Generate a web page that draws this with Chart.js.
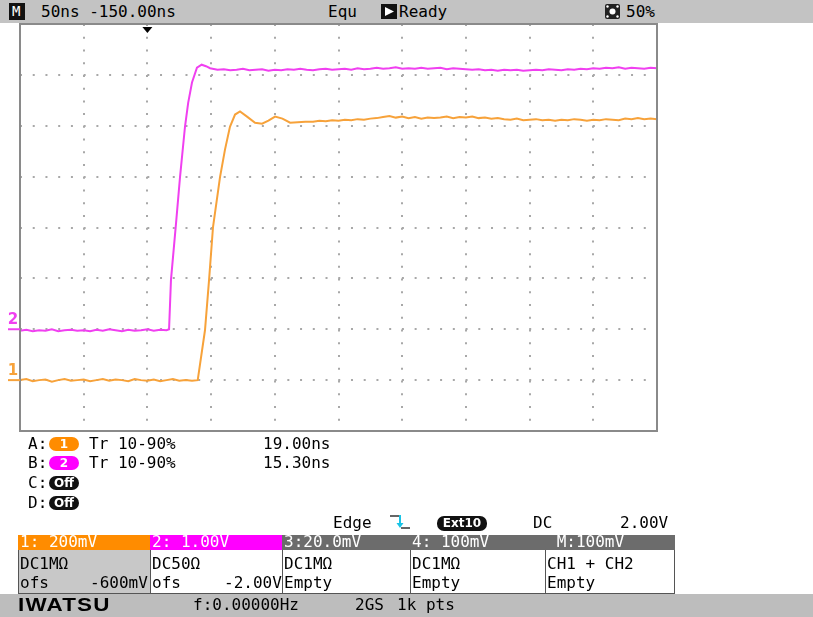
<!DOCTYPE html>
<html>
<head>
<meta charset="utf-8">
<script src="https://cdn.jsdelivr.net/npm/chart.js@4.4.0/dist/chart.umd.min.js"></script>
<style>
  body { margin: 0; background: #fff; }
  #scope { position: relative; width: 813px; height: 617px; overflow: hidden; font-family: "DejaVu Sans Mono", monospace; font-size: 16px; color: #000; }
  #scope canvas { position: absolute; left: 0; top: 0; }
  .t { position: absolute; white-space: pre; height: 18px; line-height: 18px; }
  .bar { position: absolute; left: 0; width: 813px; }
  .pill { position: absolute; height: 14px; border-radius: 7px; color: #fff; font-family: "DejaVu Sans", sans-serif; font-weight: bold; font-size: 12px; line-height: 14px; text-align: center; }
  .cell { position: absolute; box-sizing: border-box; }
  .w { color: #fff; }
</style>
</head>
<body>
<div id="scope">
  <canvas id="grafica" width="813" height="617"></canvas>

  <!-- barra superior -->
  <div class="bar" style="top:0;height:23px;background:#c3c3c3;"></div>
  <div class="cell" style="left:9px;top:3px;width:16px;height:17px;background:#111;"></div>
  <div class="t w" style="left:12px;top:2px;font-size:14px;">M</div>
  <div class="t" style="left:41px;top:3px;">50ns -150.00ns</div>
  <div class="t" style="left:328px;top:3px;">Equ</div>
  <div class="cell" style="left:381px;top:4px;width:16px;height:15px;background:#111;"></div>
  <svg style="position:absolute;left:381px;top:4px" width="16" height="15"><polygon points="4,3 13,7.5 4,12" fill="#fff"/></svg>
  <div class="t" style="left:399px;top:3px;">Ready</div>
  <svg style="position:absolute;left:605px;top:4px" width="15" height="15">
    <rect x="0" y="0" width="15" height="15" rx="2" fill="#222"/>
    <circle cx="7.5" cy="7.5" r="3" fill="#fff"/>
    <circle cx="2.5" cy="2.5" r="1.2" fill="#fff"/><circle cx="12.5" cy="2.5" r="1.2" fill="#fff"/>
    <circle cx="2.5" cy="12.5" r="1.2" fill="#fff"/><circle cx="12.5" cy="12.5" r="1.2" fill="#fff"/>
  </svg>
  <div class="t" style="left:626px;top:3px;">50%</div>

  <!-- medidas -->
  <div class="t" style="left:28px;top:435px;">A:</div>
  <div class="pill" style="left:49px;top:437px;width:30px;background:#ff8c00;">1</div>
  <div class="t" style="left:89px;top:435px;">Tr 10-90%</div>
  <div class="t" style="left:263px;top:435px;">19.00ns</div>

  <div class="t" style="left:28px;top:454px;">B:</div>
  <div class="pill" style="left:49px;top:456px;width:30px;background:#ff00ff;">2</div>
  <div class="t" style="left:89px;top:454px;">Tr 10-90%</div>
  <div class="t" style="left:263px;top:454px;">15.30ns</div>

  <div class="t" style="left:28px;top:474px;">C:</div>
  <div class="pill" style="left:49px;top:476px;width:30px;background:#111;">Off</div>
  <div class="t" style="left:28px;top:494px;">D:</div>
  <div class="pill" style="left:49px;top:496px;width:30px;background:#111;">Off</div>

  <!-- disparo -->
  <div class="t" style="left:333px;top:514px;">Edge</div>
  <svg style="position:absolute;left:388px;top:513px" width="24" height="18">
    <polyline points="2,3 11,3" stroke="#333" stroke-width="1.5" fill="none"/>
    <line x1="12" y1="2" x2="12" y2="12" stroke="#19c4e6" stroke-width="2"/>
    <polygon points="8.5,10 15.5,10 12,15" fill="#19c4e6"/>
    <polyline points="13,15 22,15" stroke="#333" stroke-width="1.5" fill="none"/>
  </svg>
  <div class="pill" style="left:437px;top:516px;width:50px;height:15px;line-height:15px;background:#111;">Ext10</div>
  <div class="t" style="left:533px;top:514px;">DC</div>
  <div class="t" style="left:620px;top:514px;">2.00V</div>

  <!-- tabla de canales -->
  <div class="cell" style="left:18px;top:535px;width:132px;height:15px;background:#ff8c00;"></div>
  <div class="cell" style="left:150px;top:535px;width:132px;height:15px;background:#ff00ff;"></div>
  <div class="cell" style="left:282px;top:535px;width:128px;height:15px;background:#6c6c6c;"></div>
  <div class="cell" style="left:410px;top:535px;width:135px;height:15px;background:#6c6c6c;"></div>
  <div class="cell" style="left:545px;top:535px;width:130px;height:15px;background:#6c6c6c;"></div>
  <div class="t w" style="left:20px;top:533px;">1: 200mV</div>
  <div class="t w" style="left:152px;top:533px;">2: 1.00V</div>
  <div class="t w" style="left:284px;top:533px;">3:20.0mV</div>
  <div class="t w" style="left:412px;top:533px;">4: 100mV</div>
  <div class="t w" style="left:547px;top:533px;"> M:100mV</div>

  <div class="cell" style="left:18px;top:550px;width:133px;height:44px;background:#c8c8c8;border:1px solid #555;border-top:none;"></div>
  <div class="cell" style="left:150px;top:550px;width:133px;height:44px;background:#fff;border:1px solid #555;border-top:none;"></div>
  <div class="cell" style="left:282px;top:550px;width:129px;height:44px;background:#fff;border:1px solid #555;border-top:none;"></div>
  <div class="cell" style="left:410px;top:550px;width:136px;height:44px;background:#fff;border:1px solid #555;border-top:none;"></div>
  <div class="cell" style="left:545px;top:550px;width:130px;height:44px;background:#fff;border:1px solid #555;border-top:none;"></div>
  <div class="t" style="left:20px;top:555px;">DC1MΩ</div>
  <div class="t" style="left:152px;top:555px;">DC50Ω</div>
  <div class="t" style="left:284px;top:555px;">DC1MΩ</div>
  <div class="t" style="left:412px;top:555px;">DC1MΩ</div>
  <div class="t" style="left:547px;top:555px;">CH1 + CH2</div>
  <div class="t" style="left:20px;top:574px;">ofs</div>
  <div class="t" style="left:90px;top:574px;">-600mV</div>
  <div class="t" style="left:152px;top:574px;">ofs</div>
  <div class="t" style="left:224px;top:574px;">-2.00V</div>
  <div class="t" style="left:284px;top:574px;">Empty</div>
  <div class="t" style="left:412px;top:574px;">Empty</div>
  <div class="t" style="left:547px;top:574px;">Empty</div>

  <!-- barra inferior -->
  <div class="bar" style="top:594px;height:23px;background:#bdbdbd;"></div>
  <div class="t" style="left:18px;top:596px;font-family:'Liberation Sans',sans-serif;font-weight:900;font-size:19px;letter-spacing:1px;transform:scaleX(1.18);transform-origin:left;">IWATSU</div>
  <div class="t" style="left:193px;top:596px;">f:0.00000Hz</div>
  <div class="t" style="left:355px;top:596px;">2GS</div>
  <div class="t" style="left:397px;top:596px;">1k pts</div>
</div>

<script>
// tiempo en ns (0 = disparo), amplitud en divisiones
const ch2Time = [
  -100, -95, -90, -85, -80, -75, -70, -65, -60, -55, -50, -45, -40, -35, -30, -25, -20, -15, -10, -5, 0, 5, 10, 15,
  17, 18.5, 22.5, 25.6, 29.5, 32, 35, 38.9, 42.6, 46, 49.2,
  55, 60, 65, 70, 75, 80, 85, 90, 95, 100,
  105, 110, 115, 120, 125, 130, 135, 140, 145, 150,
  155, 160, 165, 170, 175, 180, 185, 190, 195, 200,
  205, 210, 215, 220, 225, 230, 235, 240, 245, 250,
  255, 260, 265, 270, 275, 280, 285, 290, 295, 300,
  305, 310, 315, 320, 325, 330, 335, 340, 345, 350,
  355, 360, 365, 370, 375, 380, 385, 390, 395, 400
];
const ch2Div = [
  -2.03, -2.01, -2.04, -2.02, -2.03, -2.00, -2.04, -2.02, -2.01, -2.03, -2.02, -2.04, -2.01, -2.03, -2.00, -2.02, -2.04, -2.01, -2.03, -2.02, -2.00, -2.03, -2.01, -2.02,
  -2.00, -1.03, 0.09, 0.99, 1.98, 2.45, 2.85, 3.14, 3.20, 3.17, 3.13,
  3.10, 3.11, 3.09, 3.10, 3.12, 3.09, 3.10, 3.11, 3.08, 3.10,
  3.09, 3.11, 3.10, 3.12, 3.10, 3.09, 3.11, 3.12, 3.10, 3.11,
  3.12, 3.10, 3.13, 3.11, 3.12, 3.14, 3.12, 3.13, 3.15, 3.12,
  3.13, 3.12, 3.14, 3.12, 3.13, 3.14, 3.11, 3.13, 3.12, 3.11,
  3.10, 3.11, 3.09, 3.10, 3.08, 3.10, 3.09, 3.10, 3.08, 3.09,
  3.10, 3.09, 3.11, 3.10, 3.09, 3.11, 3.10, 3.12, 3.11, 3.13,
  3.12, 3.14, 3.13, 3.15, 3.12, 3.14, 3.13, 3.12, 3.14, 3.13
];
const ch1Time = [
  -100, -95, -90, -85, -80, -75, -70, -65, -60, -55, -50, -45, -40, -35, -30, -25, -20, -15, -10, -5, 0, 5, 10, 15, 20, 25, 30, 35,
  39.5, 45.2, 48.4, 51.5, 57, 60.9, 64.8, 68.8, 72.7, 78.2, 84.5, 90, 95, 100.2, 106, 112, 118, 124,
  130, 135, 140, 145, 150, 155, 160, 165, 170, 175,
  180, 185, 190, 195, 200, 205, 210, 215, 220, 225,
  230, 235, 240, 245, 250, 255, 260, 265, 270, 275,
  280, 285, 290, 295, 300, 305, 310, 315, 320, 325,
  330, 335, 340, 345, 350, 355, 360, 365, 370, 375,
  380, 385, 390, 395, 400
];
const ch1Div = [
  -3.00, -2.98, -3.02, -3.00, -2.99, -3.03, -3.00, -2.98, -3.01, -3.00, -2.99, -3.02, -3.00, -2.98, -3.01, -2.99, -3.00, -3.02, -2.98, -3.00, -3.01, -2.99, -3.02, -3.00, -2.98, -3.01, -3.00, -3.01,
  -3.00, -2.02, -1.03, 0.01, 0.99, 1.53, 1.98, 2.22, 2.28, 2.18, 2.06, 2.04, 2.10, 2.18, 2.14, 2.06, 2.07, 2.08,
  2.08, 2.10, 2.09, 2.11, 2.10, 2.12, 2.11, 2.13, 2.12, 2.14,
  2.15, 2.17, 2.19, 2.16, 2.18, 2.15, 2.17, 2.14, 2.16, 2.15,
  2.16, 2.18, 2.15, 2.17, 2.16, 2.18, 2.15, 2.16, 2.14, 2.15,
  2.13, 2.12, 2.14, 2.11, 2.12, 2.13, 2.11, 2.12, 2.10, 2.12,
  2.11, 2.13, 2.12, 2.10, 2.12, 2.11, 2.13, 2.12, 2.11, 2.14,
  2.13, 2.15, 2.13, 2.14, 2.13
];

// pantalla: 10 div x 50 ns, 8 div verticales
const tiempoMin = -100, tiempoMax = 400, nsPorDiv = 50;
const divMin = -4, divMax = 4;
const tiempoDisparo = 0;
const marcasTierra = [
  { etiqueta: '2', nivel: -2, color: '#f040f0' },
  { etiqueta: '1', nivel: -3, color: '#f7a23a' }
];

const puntos = (ts, vs) => ts.map((t, i) => ({ x: t, y: vs[i] }));

const marcoPantalla = {
  id: 'marcoPantalla',
  afterDatasetsDraw(chart) {
    const { ctx, chartArea: a, scales: { x, y } } = chart;
    ctx.save();
    ctx.strokeStyle = '#8a8a8a';
    ctx.lineWidth = 2;
    ctx.strokeRect(a.left, a.top, a.right - a.left, a.bottom - a.top);

    // marca del disparo
    const tx = x.getPixelForValue(tiempoDisparo);
    ctx.fillStyle = '#000';
    ctx.beginPath();
    ctx.moveTo(tx - 5, a.top + 3);
    ctx.lineTo(tx + 5, a.top + 3);
    ctx.lineTo(tx, a.top + 9);
    ctx.closePath();
    ctx.fill();

    // marcas de tierra de cada canal
    marcasTierra.forEach(m => {
      const gy = y.getPixelForValue(m.nivel);
      ctx.strokeStyle = m.color;
      ctx.lineWidth = 2;
      ctx.beginPath();
      ctx.moveTo(8, gy);
      ctx.lineTo(a.left, gy);
      ctx.stroke();
      ctx.fillStyle = m.color;
      ctx.font = 'bold 15px "DejaVu Sans"';
      ctx.textAlign = 'center';
      ctx.fillText(m.etiqueta, 13, gy - 5);
    });
    ctx.restore();
  }
};

const rejilla = { color: '#a8a8a8', lineWidth: 2, drawTicks: false };
const bordeRejilla = { display: false, dash: [2, 10.73] };

new Chart(document.getElementById('grafica'), {
  type: 'line',
  data: {
    datasets: [
      { label: 'CH2', data: puntos(ch2Time, ch2Div), borderColor: '#f040f0', borderWidth: 2, pointRadius: 0, tension: 0 },
      { label: 'CH1', data: puntos(ch1Time, ch1Div), borderColor: '#f7a23a', borderWidth: 2, pointRadius: 0, tension: 0 }
    ]
  },
  options: {
    responsive: false,
    animation: false,
    layout: { padding: { left: 20, top: 24, right: 156, bottom: 186 } },
    plugins: { legend: { display: false }, tooltip: { enabled: false } },
    scales: {
      x: { type: 'linear', min: tiempoMin, max: tiempoMax, ticks: { display: false, stepSize: nsPorDiv }, grid: rejilla, border: bordeRejilla },
      y: { min: divMin, max: divMax, ticks: { display: false, stepSize: 1 }, grid: rejilla, border: bordeRejilla }
    }
  },
  plugins: [marcoPantalla]
});
</script>
</body>
</html>
